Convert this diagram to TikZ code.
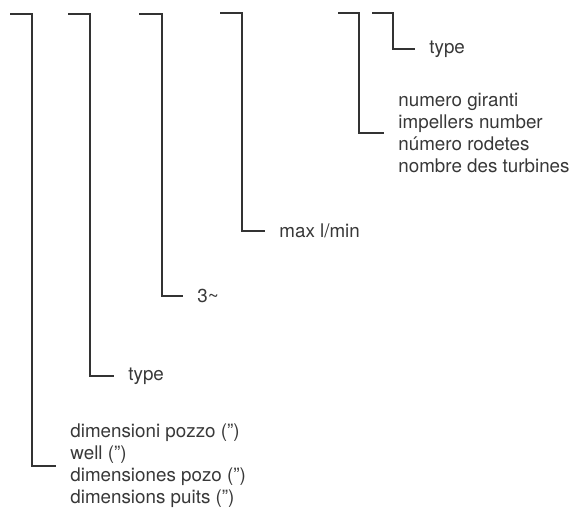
\documentclass[tikz,border=0pt]{standalone}
\usepackage{fontspec}
\setmainfont{TeX Gyre Heros}
\usepackage{tikz}

\tikzset{
  lead/.style={draw=black!80, line width=0.65pt},
  lbl/.style={anchor=west, inner xsep=7pt, inner ysep=0pt, text=black!78,
    font=\fontsize{9.4}{11}\selectfont, align=left}
}

\begin{document}
\begin{tikzpicture}[x=0.5pt,y=-0.5pt]
\useasboundingbox (0,0) rectangle (574,508);

\coordinate (t1) at (10,14);
\coordinate (c1) at (32,14);
\coordinate (t2) at (68,14);
\coordinate (c2) at (90,14);
\coordinate (t3) at (139,14);
\coordinate (c3) at (162,14);
\coordinate (t4) at (220,13);
\coordinate (c4) at (242,13);
\coordinate (t5) at (338,13);
\coordinate (c5) at (359,13);
\coordinate (t6) at (372,13);
\coordinate (c6) at (393,13);

\node[lbl] (well) at (56,466) {dimensioni pozzo (”)\\well (”)\\dimensiones pozo (”)\\dimensions puits (”)};
\node[lbl] (type1) at (114,376) {type};
\node[lbl] (phase) at (183,296) {3\textasciitilde};
\node[lbl] (flow) at (265,231) {max l/min};
\node[lbl] (imp) at (384,133) {numero giranti\\impellers number\\número rodetes\\nombre des turbines};
\node[lbl] (type2) at (415,49) {type};

\draw[lead] (t1) -- (c1) |- (well.west);
\draw[lead] (t2) -- (c2) |- (type1.west);
\draw[lead] (t3) -- (c3) |- (phase.west);
\draw[lead] (t4) -- (c4) |- (flow.west);
\draw[lead] (t5) -- (c5) |- (imp.west);
\draw[lead] (t6) -- (c6) |- (type2.west);
\end{tikzpicture}
\end{document}
